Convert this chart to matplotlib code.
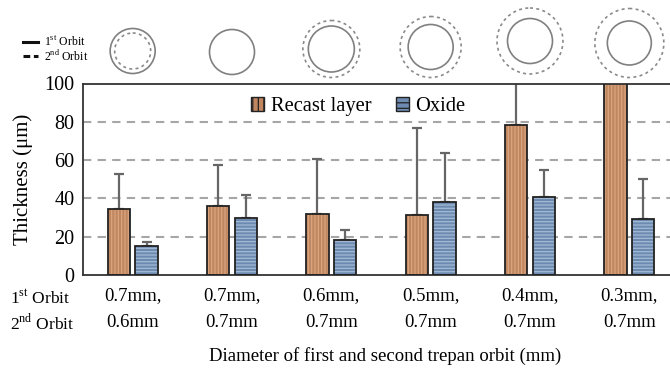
import matplotlib
matplotlib.use("Agg")
import matplotlib.pyplot as plt
import numpy as np
from matplotlib.patches import Circle, Patch
from matplotlib.lines import Line2D

plt.rcParams['font.family'] = ['Liberation Serif', 'DejaVu Serif']
plt.rcParams['mathtext.fontset'] = 'custom'
plt.rcParams['mathtext.rm'] = 'Liberation Serif'
plt.rcParams['hatch.linewidth'] = 0.9

# ---- data ----
orbit1 = ["0.7mm,", "0.7mm,", "0.6mm,", "0.5mm,", "0.4mm,", "0.3mm,"]
orbit2 = ["0.6mm", "0.7mm", "0.7mm", "0.7mm", "0.7mm", "0.7mm"]
recast = [34.5, 36.2, 32.0, 31.3, 78.2, 115.0]
recast_err = [18.5, 21.1, 28.7, 45.5, 45.0, 20.0]
oxide = [15.1, 29.8, 18.4, 38.1, 40.9, 29.2]
oxide_err = [2.1, 11.8, 5.3, 25.4, 13.8, 21.1]
yticks = [0, 20, 40, 60, 80, 100]

# icon style (pixel diameters of the orbit sketches above the chart)
solid_d = [45, 45, 46, 45, 45, 44]
dashed_d = [36, None, 57, 61, 66, 69]
icon_y = [51, 52, 49, 47, 41, 43]

W, H = 670, 372
fig = plt.figure(figsize=(W / 100, H / 100), dpi=100)
ax = fig.add_axes([83 / W, 1 - 275 / H, (679 - 83) / W, (275 - 83.5) / H])

x = np.arange(len(recast))
bw = 0.225
off = 0.14
rc_face, rc_hatch = '#c0865f', '#dba57f'
ox_face, ox_hatch = '#6d8bb1', '#a3b9d5'
err_col = '#666666'

for yv in yticks[1:-1]:
    ax.axhline(yv, color='#a6a6a6', lw=1.5, ls=(0, (4, 3)), zorder=0)

# hatched fills (hatch drawn in lighter colour), then black outline on top
ax.bar(x - off, recast, bw, color=rc_face, edgecolor=rc_hatch, hatch='|||||', lw=0, zorder=2)
ax.bar(x - off, recast, bw, fill=False, edgecolor='#222222', lw=1.3, zorder=3)
ax.bar(x + off, oxide, bw, color=ox_face, edgecolor=ox_hatch, hatch='-----', lw=0, zorder=2)
ax.bar(x + off, oxide, bw, fill=False, edgecolor='#222222', lw=1.3, zorder=3)

ax.errorbar(x - off, recast, yerr=[np.zeros(len(recast)), recast_err], fmt='none',
            ecolor=err_col, elinewidth=1.6, capsize=3.5, capthick=1.6, zorder=1)
ax.errorbar(x + off, oxide, yerr=[np.zeros(len(oxide)), oxide_err], fmt='none',
            ecolor=err_col, elinewidth=1.6, capsize=3.5, capthick=1.6, zorder=1)

ax.set_xlim(-0.5, len(recast) - 0.5)
ax.set_ylim(0, 100)
ax.set_yticks(yticks)
ax.set_yticklabels([str(v) for v in yticks], fontsize=14.5)
ax.set_xticks(x)
ax.set_xticklabels([a + "\n" + b for a, b in zip(orbit1, orbit2)], fontsize=13.5,
                   linespacing=1.75)
ax.tick_params(length=0, pad=6)
ax.tick_params(axis='x', pad=9)
for s in ['left', 'top', 'bottom', 'right']:
    ax.spines[s].set_color('#333333')
    ax.spines[s].set_linewidth(1.3)
ax.set_ylabel("Thickness (μm)", fontsize=15, labelpad=8)

handles = [Patch(facecolor=rc_face, edgecolor='#222222', hatch='|||', label='Recast layer'),
           Patch(facecolor=ox_face, edgecolor='#222222', hatch='---', label='Oxide')]
leg = ax.legend(handles=handles, loc='upper center', bbox_to_anchor=(0.462, 1.025),
                ncol=2, frameon=False, fontsize=14.8, handlelength=0.65, handleheight=0.65,
                handletextpad=0.3, columnspacing=1.2)

# overlay in pixel coordinates
ov = fig.add_axes([0, 0, 1, 1], zorder=5)
ov.set_xlim(0, W)
ov.set_ylim(H, 0)
ov.axis('off')
ov.patch.set_alpha(0)

fig.canvas.draw()
for i in range(len(recast)):
    px = ax.transData.transform((x[i], 0))[0]
    ov.add_patch(Circle((px, icon_y[i]), solid_d[i] / 2, fill=False, ec='#808080', lw=1.2))
    if dashed_d[i]:
        ov.add_patch(Circle((px, icon_y[i]), dashed_d[i] / 2, fill=False, ec='#8a8a8a',
                            lw=1.2, ls=(0, (1.8, 2.0))))

# small orbit legend
ov.add_line(Line2D([23, 38], [42, 42], color='#111111', lw=2.2))
ov.add_line(Line2D([23, 38], [56, 56], color='#111111', lw=2.2, ls=(0, (2.2, 1.2))))
ov.text(44, 42, "1$^{\\rm st}$ Orbit", fontsize=8.5, va='center', ha='left')
ov.text(44, 56, "2$^{\\rm nd}$ Orbit", fontsize=8.5, va='center', ha='left')

# row labels
ov.text(10, 298, "1$^{\\rm st}$ Orbit", fontsize=12.5, va='center', ha='left')
ov.text(10, 323, "2$^{\\rm nd}$ Orbit", fontsize=12.5, va='center', ha='left')

ov.text(385, 356, "Diameter of first and second trepan orbit (mm)", fontsize=13.5,
        va='center', ha='center')

fig.savefig("out.png", dpi=100)
